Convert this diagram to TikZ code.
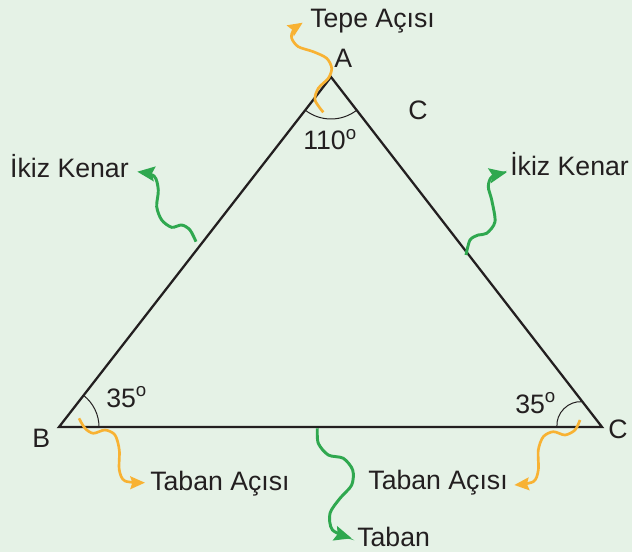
\documentclass[tikz,border=0pt]{standalone}
\usepackage{fontspec}
\setmainfont{Liberation Sans}
\usetikzlibrary{arrows.meta,angles,calc}
\definecolor{bg}{RGB}{229,242,230}
\definecolor{org}{RGB}{248,178,51}
\definecolor{grn}{RGB}{47,168,79}
\definecolor{ink}{RGB}{35,31,32}
\begin{document}
\begin{tikzpicture}[x=0.75pt,y=0.75pt,
  font=\fontsize{20}{24}\selectfont, text=ink,
  lbl/.style={inner sep=0pt, anchor=base west},
  lble/.style={inner sep=0pt, anchor=base east},
  tri/.style={draw=ink, line width=1.7pt, line join=miter},
  angarc/.style={draw=ink, line width=0.75pt},
  curveO/.style={draw=org, line width=2pt, -{Stealth[length=11pt,width=9.5pt,inset=1.5pt]}},
  curveG/.style={draw=grn, line width=2.2pt, -{Stealth[length=13pt,width=11pt,inset=2pt]}}]
\fill[bg] (0,-552) rectangle (632,0);
\useasboundingbox (0,-552) rectangle (632,0);
% triangle
\coordinate (A) at (331,-77);
\coordinate (B) at (59,-427);
\coordinate (C) at (602,-427);
\draw[tri] (A) -- (B) -- (C) -- cycle;
% angle marks
\pic[angarc, angle radius=31.5pt] {angle=B--A--C};
\pic[angarc, angle radius=30pt] {angle=C--B--A};
\draw[angarc] ($(C)!0.083!(B)$) to[out=95,in=175] ($(C)!0.0723!(A)$);
% labels
\node[lbl] (tp) at (310,-28) {Tepe Açısı};
\node[lbl] (lA) at (334,-68) {A};
\node[lbl] (lC2) at (408,-120) {C};
\node[lbl] (a110) at (303,-150) {110\textsuperscript{o}};
\node[lble] (ikL) at (129,-178) {İkiz Kenar};
\node[lbl] (ikR) at (510,-176) {İkiz Kenar};
\node[lbl] (b35) at (106,-407) {35\textsuperscript{o}};
\node[lbl] (lB) at (32,-447) {B};
\node[lbl] (c35) at (515,-413) {35\textsuperscript{o}};
\node[lbl] (lC) at (608,-438) {C};
\node[lbl] (taL) at (150,-490) {Taban Açısı};
\node[lble] (taR) at (508,-489) {Taban Açısı};
\node[lbl] (tb) at (357,-546) {Taban};
% start points
\coordinate (s1) at (323.3,-112.3);
\coordinate (s2) at (79,-418.3);
\coordinate (s3) at (580,-420);
\coordinate (s4) at (317.3,-428.3);
\coordinate (s5) at (196,-241.7);
\coordinate (s6) at (466,-255);
% orange arrows
\draw[curveO] plot[smooth] coordinates {(s1) (315,-100) (318.3,-88.3) (328.3,-78.3) (331.7,-68.3) (326.7,-58.3) (313.3,-51.7) (298.3,-46.7) (291.7,-38.3) (293.3,-30) ([shift={(-7.3,5.3)}]tp.base west)};
\draw[curveO] plot[smooth] coordinates {(s2) (85,-428.3) (93.3,-433.3) (105,-430) (115,-435) (119.3,-450) (119.3,-470) (125,-481) ([shift={(-5,7.3)}]taL.base west)};
\draw[curveO] plot[smooth] coordinates {(s3) (575,-430) (565,-435) (553.3,-431.7) (543.3,-436.7) (538.3,-450) (538.3,-470) (533.3,-481.7) ([shift={(6.3,4)}]taR.base east)};
% green arrows
\draw[curveG] plot[smooth] coordinates {(s4) (318.3,-443.3) (328.3,-455) (343.3,-458.3) (352.7,-470) (351.7,-485) (340,-498.3) (330,-513.3) (332.5,-530) ([shift={(-5.3,7.7)}]tb.base west)};
\draw[curveG] plot[smooth] coordinates {(s5) (190,-230) (181.7,-225) (171.7,-227.3) (161.7,-220) (156.7,-206.7) (158.3,-190) (154,-176) ([shift={(8.3,6.3)}]ikL.base east)};
\draw[curveG] plot[smooth] coordinates {(s6) (470,-240) (478.3,-235) (486.7,-233.3) (495,-221.7) (491.7,-200) (488.3,-186.7) (492,-176.7) ([shift={(-3.3,3.7)}]ikR.base west)};
\end{tikzpicture}
\end{document}
